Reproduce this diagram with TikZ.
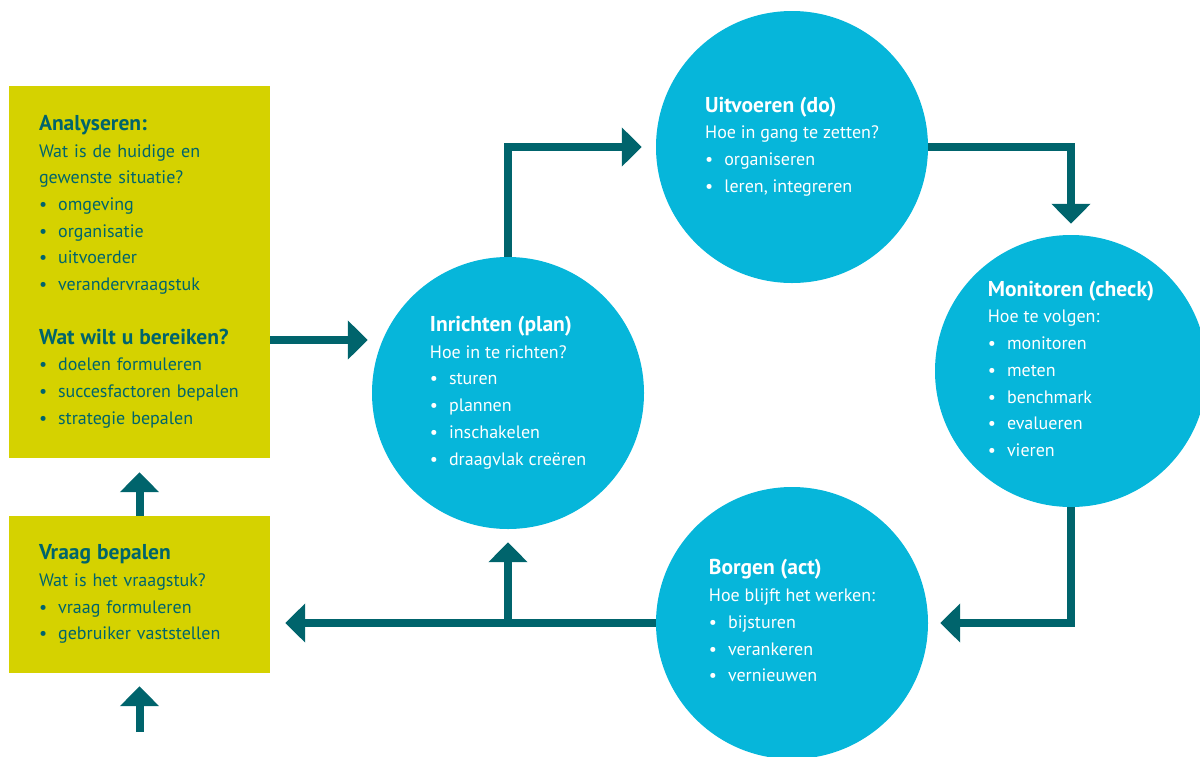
\documentclass[tikz,border=0pt]{standalone}
\usepackage{fontspec}
\setmainfont{PT Sans}
\usetikzlibrary{positioning, calc, arrows.meta}

\definecolor{boxyellow}{HTML}{D5D200}
\definecolor{phaseblue}{HTML}{06B6DA}
\definecolor{flowteal}{HTML}{00646C}

\newcommand{\kop}[1]{{\fontsize{21.5}{26.7}\selectfont\bfseries #1}}
\newcommand{\punt}{\textbullet\hspace{11pt}}

\tikzset{
	phase/.style={circle, fill=phaseblue, minimum size=272pt, inner sep=0pt, text=white, font=\fontsize{18}{26.7}\selectfont},
	infobox/.style={rectangle, fill=boxyellow, text width=201pt, inner xsep=30pt, inner ysep=0pt, align=left, text=flowteal, font=\fontsize{18}{26.7}\selectfont},
	flow/.style={draw=flowteal, line width=8pt, -{Triangle[width=38pt,length=20pt]}}
}

\begin{document}
\begin{tikzpicture}[x=1pt, y=1pt]
			\useasboundingbox (0, 0) rectangle (1200, -756);
			
			\node[infobox, minimum height=372pt] (analyse) at (139.5, -272) {\begin{tabular}{@{}l@{}}
					\kop{Analyseren:} \\
					Wat is de huidige en \\
					gewenste situatie? \\
					\punt omgeving \\
					\punt organisatie \\
					\punt uitvoerder \\
					\punt verandervraagstuk \\
					\\
					\kop{Wat wilt u bereiken?} \\
					\punt doelen formuleren \\
					\punt succesfactoren bepalen \\
					\punt strategie bepalen \\
			\end{tabular}};
			
			\node[infobox, minimum height=157pt] (vraag) at (139.5, -594.5) {\begin{tabular}{@{}l@{}}
					\kop{Vraag bepalen} \\
					Wat is het vraagstuk? \\
					\punt vraag formuleren \\
					\punt gebruiker vaststellen \\
			\end{tabular}};
			
			\node[phase] (plan) at (508, -393) {\begin{tabular}{@{}l@{}}
					\kop{Inrichten (plan)} \\
					Hoe in te richten? \\
					\punt sturen \\
					\punt plannen \\
					\punt inschakelen \\
					\punt draagvlak creëren \\
			\end{tabular}};
			
			\node[phase] (do) at (792, -147) {\begin{tabular}{@{}l@{}}
					\kop{Uitvoeren (do)} \\
					Hoe in gang te zetten? \\
					\punt organiseren \\
					\punt leren, integreren \\
			\end{tabular}};
			
			\node[phase] (check) at (1071, -371) {\begin{tabular}{@{}l@{}}
					\kop{Monitoren (check)} \\
					Hoe te volgen: \\
					\punt monitoren \\
					\punt meten \\
					\punt benchmark \\
					\punt evalueren \\
					\punt vieren \\
			\end{tabular}};
			
			\node[phase] (act) at (792, -623) {\begin{tabular}{@{}l@{}}
					\kop{Borgen (act)} \\
					Hoe blijft het werken: \\
					\punt bijsturen \\
					\punt verankeren \\
					\punt vernieuwen \\
			\end{tabular}};
			
			\coordinate (start) at (139.5, -732);
			
			\draw[flow, shorten >=4pt] ([yshift=-68pt]analyse.east) -- ([yshift=-68pt]analyse.east -| plan.west);
			\draw[flow, shorten >=14pt] (plan.north) |- (do.west);
			\draw[flow, shorten >=11pt] (do.east) -| (check.north);
			\draw[flow, shorten >=12pt] (check.south) |- (act.east);
			\draw[flow, shorten >=15pt] (act.west) -- (act.west -| vraag.east);
			\draw[flow, shorten >=13pt] (plan.south |- act.west) -- (plan.south);
			\draw[flow, shorten >=14pt] (vraag.north) -- (analyse.south);
			\draw[flow, shorten >=13pt] (start) -- (vraag.south);
		\end{tikzpicture}
\end{document}
